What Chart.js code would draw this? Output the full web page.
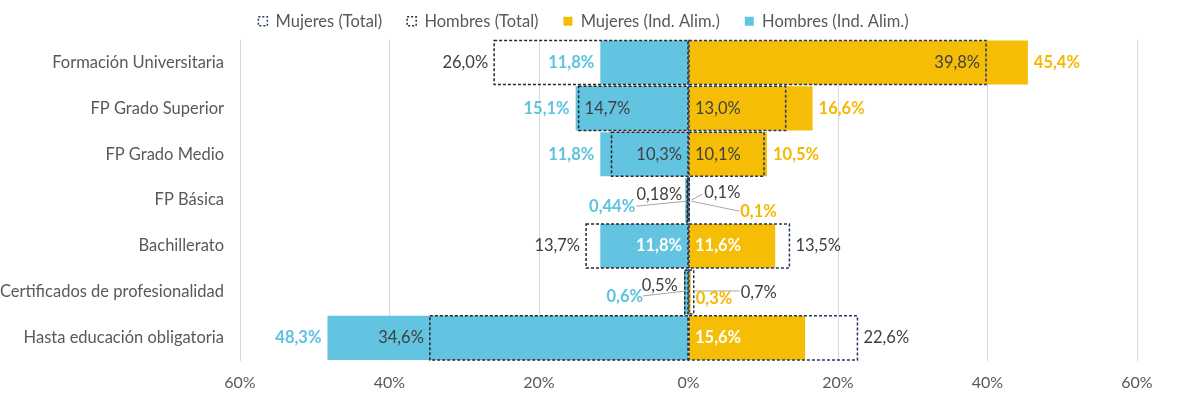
<!DOCTYPE html>
<html><head><meta charset="utf-8">
<script src="https://cdn.jsdelivr.net/npm/chart.js@4.4.1/dist/chart.umd.min.js"></script>
<style>html,body{margin:0;padding:0;background:#fff}#wrap{width:1180px;height:404px;position:relative}</style>
</head><body><div id="wrap"><canvas id="c"></canvas></div>
<script>
const categories = ['Formación Universitaria','FP Grado Superior','FP Grado Medio','FP Básica','Bachillerato','Certificados de profesionalidad','Hasta educación obligatoria'];
const mujeresTotal = [39.8, 13.0, 10.1, 0.1, 13.5, 0.7, 22.6];
const hombresTotal = [26.0, 14.7, 10.3, 0.18, 13.7, 0.5, 34.6];
const mujeresInd = [45.4, 16.6, 10.5, 0.1, 11.6, 0.3, 15.6];
const hombresInd = [11.8, 15.1, 11.8, 0.44, 11.8, 0.6, 48.3];
const xTicks = [-60, -40, -20, 0, 20, 40, 60];

const FONT = 'Lato, "Noto Sans", sans-serif';
const BLUE = '#62C4E0', YELLOW = '#F6BD06', DARK = '#404040', GREY = '#595959';
const BLUE_TXT = '#5BC3DF', YELLOW_TXT = '#F5B800';

function fmt(v){ return Number.isInteger(v) ? v + ',0%' : String(v).replace('.', ',') + '%'; }

// label placement per dataset (same order as datasets)
const labelModes = [
  ['inEnd','inStart','inStart',{dx:15,dy:-7,align:'left',line:[13,-6,2,0]},'out',{dx:47,dy:1,align:'left',line:[46,-1,1,-1]},'out'],
  ['out','inEnd','inStart',{dx:-5,dy:-5,align:'right'},'out',{dx:-7,dy:-6,align:'right'},'out'],
  ['out','out','out',{dx:51,dy:12,align:'left',line:[50,11,2,1]},'inStart',{dx:5,dy:7,align:'left'},'inStart'],
  ['out','out','out',{dx:-50,dy:7,align:'right',line:[-49,6,2,1]},'inStart',{dx:-41,dy:5,align:'right',line:[-41,4,2,-1]},'out']
];
const rawData = [mujeresTotal, hombresTotal, mujeresInd, hombresInd];

const legendShift = {
  id: 'legendShift',
  afterLayout(chart){ if (chart.legend) { chart.legend.left += 30; } }
};

const dashPlugin = {
  id: 'dashBoxes',
  afterDatasetsDraw(chart){
    const ctx = chart.ctx;
    chart.data.datasets.forEach((ds, i) => {
      if (!ds.dashColor) return;
      const meta = chart.getDatasetMeta(i);
      meta.data.forEach(el => {
        const p = el.getProps(['x','y','base','height'], true);
        const l = Math.min(p.x, p.base), r = Math.max(p.x, p.base);
        ctx.save();
        ctx.strokeStyle = ds.dashColor;
        ctx.lineWidth = 1.5;
        ctx.setLineDash([3, 2]);
        ctx.strokeRect(l, p.y - p.height/2, r - l, p.height);
        ctx.restore();
      });
    });
  }
};

const labelPlugin = {
  id: 'barLabels',
  afterDatasetsDraw(chart){
    const ctx = chart.ctx;
    const gap = 6;
    chart.data.datasets.forEach((ds, i) => {
      const meta = chart.getDatasetMeta(i);
      meta.data.forEach((el, j) => {
        const p = el.getProps(['x','y','base'], true);
        const neg = p.x < p.base;
        const mode = labelModes[i][j];
        const txt = fmt(rawData[i][j]);
        let color = ds.labelColor, weight = ds.labelWeight;
        let tx, ty = p.y, align;
        if (typeof mode === 'object') {
          tx = p.x + mode.dx; ty = p.y + mode.dy; align = mode.align;
          if (mode.line) {
            ctx.save();
            ctx.strokeStyle = '#A6A6A6'; ctx.lineWidth = 1;
            ctx.beginPath();
            ctx.moveTo(p.x + mode.line[0], p.y + mode.line[1]);
            ctx.lineTo(p.x + mode.line[2], p.y + mode.line[3]);
            ctx.stroke();
            ctx.restore();
          }
        } else if (mode === 'out') {
          tx = neg ? p.x - gap : p.x + gap; align = neg ? 'right' : 'left';
        } else if (mode === 'inEnd') {
          tx = neg ? p.x + gap : p.x - gap; align = neg ? 'left' : 'right';
        } else {
          tx = neg ? p.base - gap : p.base + gap; align = neg ? 'right' : 'left';
          if (ds.insideColor) color = ds.insideColor;
        }
        ctx.save();
        ctx.font = weight + ' 16.5px ' + FONT;
        ctx.fillStyle = color;
        ctx.textAlign = align;
        ctx.textBaseline = 'middle';
        ctx.fillText(txt, tx, ty);
        ctx.restore();
      });
    });
  }
};

const common = {grouped: false, barPercentage: 0.96, categoryPercentage: 1, borderWidth: 0};
new Chart(document.getElementById('c'), {
  type: 'bar',
  data: {
    labels: categories,
    datasets: [
      Object.assign({label: 'Mujeres (Total)', data: mujeresTotal, backgroundColor: 'rgba(0,0,0,0)', dashColor: '#1F3864', labelColor: DARK, labelWeight: 'normal'}, common),
      Object.assign({label: 'Hombres (Total)', data: hombresTotal.map(v => -v), backgroundColor: 'rgba(0,0,0,0)', dashColor: '#262626', labelColor: DARK, labelWeight: 'normal'}, common),
      Object.assign({label: 'Mujeres (Ind. Alim.)', data: mujeresInd, backgroundColor: YELLOW, labelColor: YELLOW_TXT, insideColor: '#FFFFFF', labelWeight: 'bold'}, common),
      Object.assign({label: 'Hombres (Ind. Alim.)', data: hombresInd.map(v => -v), backgroundColor: BLUE, labelColor: BLUE_TXT, insideColor: '#FFFFFF', labelWeight: 'bold'}, common)
    ]
  },
  options: {
    indexAxis: 'y',
    responsive: true,
    maintainAspectRatio: false,
    animation: false,
    layout: {padding: {top: -12, right: 43, bottom: 0, left: 0}},
    scales: {
      x: {
        min: -60, max: 60,
        afterBuildTicks(s){ s.ticks = xTicks.map(v => ({value: v})); },
        ticks: {callback: v => Math.abs(v) + '%', color: GREY, font: {family: FONT, size: 16}, padding: 12},
        grid: {color: '#D9D9D9', drawTicks: false},
        border: {display: false}
      },
      y: {
        grid: {display: false, drawTicks: false},
        border: {display: false},
        ticks: {color: GREY, font: {family: FONT, size: 16.5}, padding: 16},
        afterFit(s){ s.width = 240; }
      }
    },
    plugins: {
      tooltip: {enabled: false},
      legend: {
        position: 'top',
        labels: {
          color: GREY, font: {family: FONT, size: 16.5}, boxWidth: 9, boxHeight: 9, padding: 25,
          generateLabels(chart){
            return chart.data.datasets.map((ds, i) => ({
              text: ds.label,
              fillStyle: ds.dashColor ? 'rgba(0,0,0,0)' : ds.backgroundColor,
              strokeStyle: ds.dashColor || ds.backgroundColor,
              lineWidth: ds.dashColor ? 1.5 : 0,
              lineDash: ds.dashColor ? [2, 2] : [],
              fontColor: GREY,
              hidden: false,
              datasetIndex: i
            }));
          }
        }
      }
    }
  },
  plugins: [legendShift, dashPlugin, labelPlugin]
});
</script>
</body></html>
